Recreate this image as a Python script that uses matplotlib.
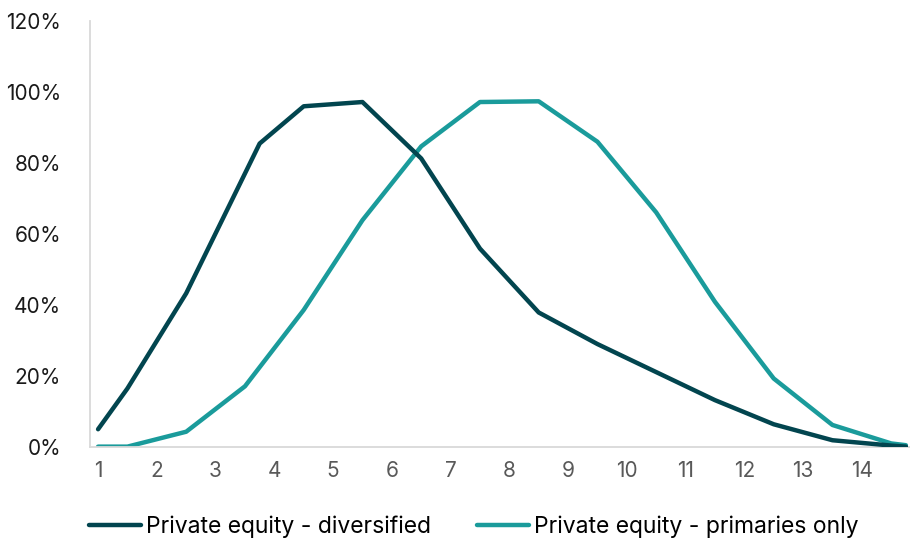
import matplotlib
matplotlib.use('Agg')
import matplotlib.pyplot as plt
from matplotlib.ticker import PercentFormatter

plt.rcParams['font.family'] = ['Inter', 'DejaVu Sans']

# years (x) and share of value (%)
div_x = [1, 1.5, 2.5, 3.75, 4.5, 5.5, 6.5, 7.5, 8.5, 9.5, 10.5, 11.5, 12.5, 13.5, 14.5, 14.75]
div_y = [4.9, 16.4, 43.2, 85.4, 95.9, 97.1, 81.2, 55.8, 37.8, 28.9, 21.0, 13.1, 6.3, 1.8, 0.3, 0.0]
prim_x = [1, 1.5, 2.5, 3.5, 4.5, 5.5, 6.5, 7.5, 8.5, 9.5, 10.5, 11.5, 12.5, 13.5, 14.5, 14.75]
prim_y = [0.0, 0.0, 4.2, 17.0, 38.5, 63.8, 84.6, 97.1, 97.3, 85.9, 66.0, 40.8, 19.2, 6.1, 0.9, 0.4]
labels = ['Private equity - diversified', 'Private equity - primaries only']
colors = ['#02454F', '#1A9B9B']

fig = plt.figure(figsize=(9.1, 5.46), dpi=100)
ax = fig.add_axes([0.099, 0.182, 0.901, 0.780])

ax.plot(div_x, div_y, color=colors[0], lw=3.2, solid_capstyle='round', label=labels[0], zorder=3)
ax.plot(prim_x, prim_y, color=colors[1], lw=3.2, solid_capstyle='round', label=labels[1], zorder=2)

ax.set_xlim(0.864, 14.82)
ax.set_ylim(0, 120)
ax.set_xticks(range(1, 15))
ax.set_yticks(range(0, 121, 20))
ax.yaxis.set_major_formatter(PercentFormatter(decimals=0))

for s in ['top', 'right']:
    ax.spines[s].set_visible(False)
for s in ['left', 'bottom']:
    ax.spines[s].set_color('#D9D9D9')
    ax.spines[s].set_linewidth(1.3)

ax.tick_params(axis='both', length=0)
ax.tick_params(axis='x', colors='#595959', labelsize=15, pad=10)
ax.tick_params(axis='y', colors='#1A1A1A', labelsize=15, pad=21)

fig.legend(loc='center', bbox_to_anchor=(0.521, 0.035), ncol=2, frameon=False,
           fontsize=16.5, handlelength=2.27, handletextpad=0.22, columnspacing=2.0)

fig.savefig('out.png', dpi=100)
